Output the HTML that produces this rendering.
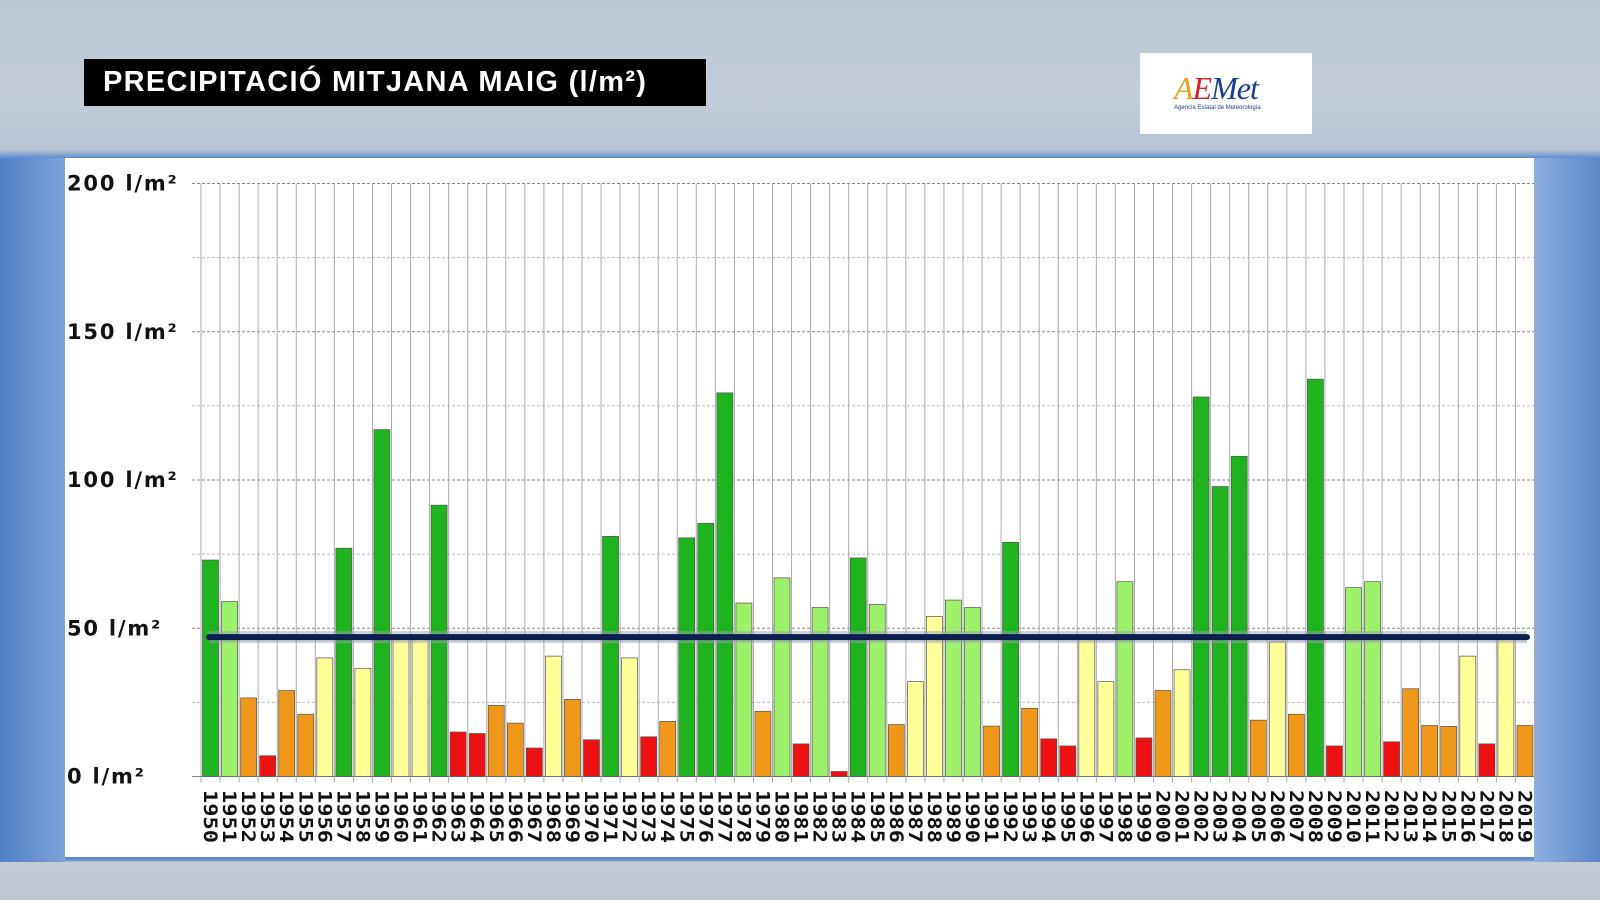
<!DOCTYPE html>
<html><head><meta charset="utf-8">
<style>
html,body{margin:0;padding:0;width:1600px;height:900px;overflow:hidden;font-family:"Liberation Sans",sans-serif;}
#bg{position:absolute;left:0;top:0;width:1600px;height:900px;
background:linear-gradient(180deg,#bcc6d3 0px,#c3ccd8 100px,#b7c3d2 150px,#5d8fd0 158px,#6f9ad6 400px,#5f8ccc 860px,#c2cbd6 862px,#bcc5d0 900px);}
#left{position:absolute;left:0;top:158px;width:65px;height:704px;background:linear-gradient(90deg,#4f7fc4,#7ea4da);}
#right{position:absolute;left:1534px;top:158px;width:66px;height:704px;background:linear-gradient(90deg,#8eb0df,#5a87c8);}
#title{position:absolute;left:84px;top:59px;width:622px;height:47px;background:#000;color:#fff;font-weight:bold;font-size:29px;line-height:47px;box-sizing:border-box;padding-left:19px;letter-spacing:1.3px;}
#logo{position:absolute;left:1140px;top:53px;width:172px;height:81px;background:#fff;}
svg{position:absolute;left:0;top:0;}
</style></head><body>
<div id="bg"></div><div id="left"></div><div id="right"></div>
<div id="title">PRECIPITACIÓ MITJANA MAIG (l/m²)</div>
<div id="logo">
<div style="position:absolute;left:34px;top:17px;font-family:'Liberation Serif',serif;font-style:italic;font-size:32px;color:#1a3f8f;letter-spacing:-1px"><span style="color:#e8a020">A</span><span style="color:#d42020">E</span>Met</div>
<div style="position:absolute;left:34px;top:52px;font-size:6px;color:#1a3f8f">Agencia Estatal de Meteorología</div>
</div>
<svg id="s" width="1600" height="900" xmlns="http://www.w3.org/2000/svg"></svg>
<script>
var v=[73,59,26.5,7,29,21,40,77,36.5,117,47,47,91.5,15,14.5,24,18,9.6,40.6,26,12.4,81,40,13.4,18.6,80.5,85.4,129.4,58.5,22,67,11,57,1.7,73.7,58,17.5,32,54,59.5,57,17,79,23,12.7,10.3,47,32,65.7,13,29,36,128,97.8,108,19,45.4,21,134,10.3,63.7,65.7,11.7,29.6,17.2,16.9,40.6,11,47,17.2];
var c=["D","L","O","R","O","O","Y","D","Y","D","Y","Y","D","R","R","O","O","R","Y","O","R","D","Y","R","O","D","D","D","L","O","L","R","L","R","D","L","O","Y","Y","L","L","O","D","O","R","R","Y","Y","L","R","O","Y","D","D","D","O","Y","O","D","R","L","L","R","O","O","O","Y","R","Y","O"];
var col={D:"#1fb31f",L:"#9cf06a",O:"#f0981a",R:"#ee1111",Y:"#ffff99"};
var y0=776.5,k=2.965,x0=201,p=19.05,W=70;
var h='<rect x="65" y="158" width="1469" height="699" fill="#fff"/>';
for(var g=25;g<=200;g+=25){var y=y0-g*k;h+='<line x1="192" x2="'+(x0+p*W)+'" y1="'+y+'" y2="'+y+'" stroke="'+(g%50?"#bbb":"#888")+'" stroke-dasharray="3,2" stroke-width="1"/>';}
for(var i=0;i<=W;i++){var x=x0+p*i;h+='<line x1="'+x+'" x2="'+x+'" y1="'+(y0-200*k)+'" y2="'+(y0+6)+'" stroke="#aaa" stroke-width="1"/>';}
h+='<line x1="192" x2="'+(x0+p*W)+'" y1="'+y0+'" y2="'+y0+'" stroke="#888"/>';
for(var i=0;i<W;i++){var x=x0+p*i+1.5,hh=v[i]*k;
h+='<rect x="'+x+'" y="'+(y0-hh)+'" width="16" height="'+hh+'" fill="'+col[c[i]]+'" stroke="#555" stroke-width="0.7"/>';
var lx=x0+p*i+3;h+='<text transform="translate('+lx+',790) rotate(90) scale(1,0.85)" font-family="DejaVu Sans Mono,Liberation Mono,monospace" font-weight="bold" font-size="22" fill="#111">'+(1950+i)+'</text>';}
for(var g=0;g<=200;g+=50){h+='<text x="67" y="'+(y0-g*k+7)+'" font-family="DejaVu Sans,sans-serif" font-weight="bold" font-size="21" letter-spacing="1.8" fill="#111">'+g+' l/m²</text>';}
var ym=y0-47*k;
h+='<line x1="209" x2="1527" y1="'+ym+'" y2="'+ym+'" stroke="#9aa3b0" stroke-width="12" opacity="0.5"/>';
h+='<line x1="209" x2="1527" y1="'+ym+'" y2="'+ym+'" stroke="#0c1f4f" stroke-width="6" stroke-linecap="round"/>';
document.getElementById('s').innerHTML=h;
</script>
</body></html>
